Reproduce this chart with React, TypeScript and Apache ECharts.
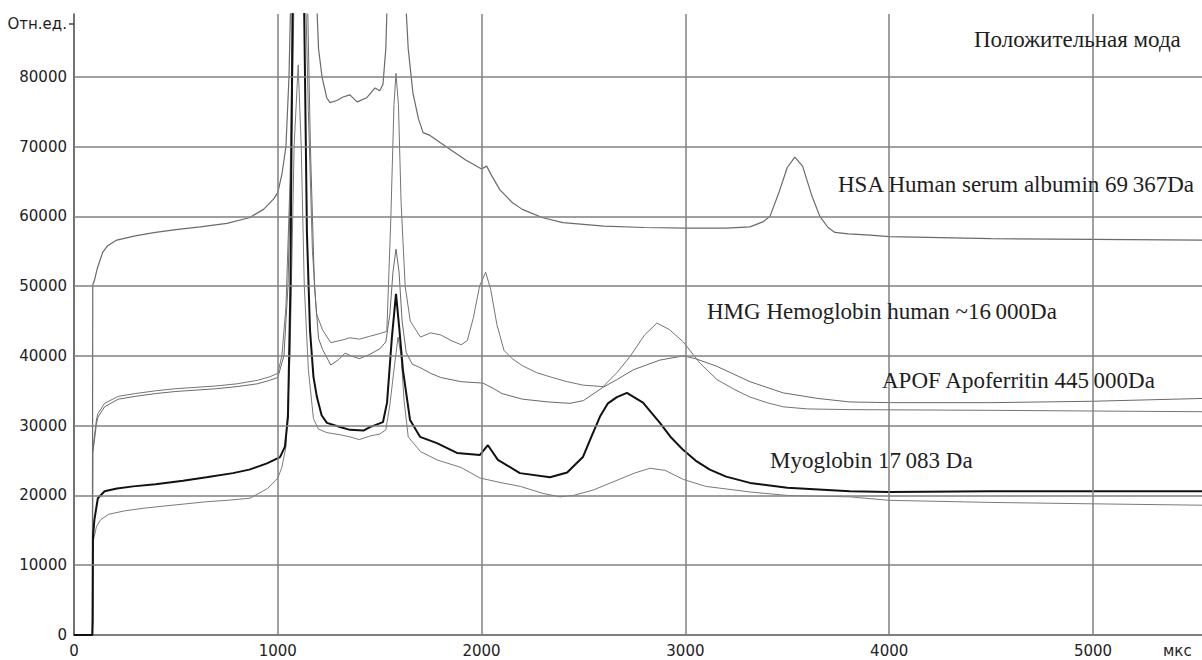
import React, { useEffect, useRef } from "react";
import * as echarts from "echarts";

// ---- axis ticks ----
const xGridValues = [1000, 2000, 3000, 4000, 5000];
const yGridValues = [10000, 20000, 30000, 40000, 50000, 60000, 70000, 80000];
const xMax = 5535;
const yMax = 89000;

// ---- series data: [time (мкс), signal (отн.ед.)] ----
const hsa: number[][] = [
  [0, 0], [90, 0], [92, 50200], [100, 50800], [115, 52600], [140, 54800], [165, 55800], [210, 56600],
  [300, 57200], [400, 57700], [500, 58100], [620, 58500], [750, 59000], [860, 59800], [930, 61000],
  [980, 62500], [1000, 63400], [1020, 66000], [1040, 70000], [1055, 80000], [1070, 100000], [1100, 130000],
  [1160, 130000], [1185, 95000], [1200, 84000], [1217, 80000], [1240, 77000], [1256, 76300], [1290, 76600],
  [1320, 77100], [1354, 77400], [1389, 76400], [1437, 77000], [1477, 78400], [1500, 78000], [1516, 78900],
  [1530, 84000], [1546, 100000], [1585, 125000], [1620, 95000], [1640, 84000], [1663, 77700], [1690, 74000],
  [1713, 72000], [1747, 71600], [1800, 70500], [1850, 69500], [1920, 68100], [2000, 66800], [2025, 67200],
  [2050, 65800], [2090, 63800], [2150, 62000], [2200, 61000], [2300, 59800], [2400, 59100], [2600, 58600],
  [2800, 58400], [3000, 58300], [3200, 58300], [3317, 58500], [3380, 59200], [3415, 60000], [3460, 63500],
  [3500, 67000], [3537, 68500], [3575, 67200], [3620, 63000], [3660, 60000], [3700, 58400], [3734, 57700],
  [3800, 57500], [3906, 57300], [4000, 57100], [4500, 56800], [5000, 56700], [5535, 56600],
];

const hmg: number[][] = [
  [0, 0], [90, 0], [92, 26600], [110, 30800], [117, 31700], [150, 33200], [217, 34200], [300, 34600],
  [400, 35000], [500, 35300], [600, 35500], [700, 35700], [800, 36000], [900, 36500], [960, 37000],
  [1000, 37500], [1020, 40000], [1040, 47000], [1060, 65000], [1080, 100000], [1130, 100000], [1150, 75000],
  [1170, 55000], [1190, 46000], [1220, 43700], [1260, 41900], [1320, 42300], [1354, 42600], [1400, 42400],
  [1450, 42800], [1500, 43200], [1535, 43500], [1555, 60000], [1570, 76000], [1580, 80500], [1592, 76000],
  [1605, 62000], [1625, 50000], [1650, 45000], [1700, 42700], [1750, 43300], [1800, 43000], [1850, 42200],
  [1900, 41600], [1930, 42200], [1960, 45500], [1990, 50000], [2020, 52000], [2045, 49500], [2075, 44500],
  [2110, 40800], [2150, 39600], [2200, 38600], [2270, 37600], [2336, 37000], [2420, 36300], [2500, 35800],
  [2596, 35600], [2664, 37600], [2728, 39900], [2800, 43000], [2860, 44700], [2920, 43800], [2990, 42000],
  [3070, 39000], [3155, 36600], [3240, 35200], [3317, 34100], [3400, 33300], [3480, 32700], [3600, 32400],
  [3807, 32300], [4500, 32200], [5000, 32100], [5535, 32000],
];

const apof: number[][] = [
  [0, 0], [90, 0], [92, 26000], [110, 30200], [117, 31200], [150, 32700], [217, 33800], [300, 34200],
  [400, 34600], [500, 34900], [600, 35100], [700, 35300], [800, 35600], [900, 36000], [960, 36500],
  [1000, 36900], [1030, 40000], [1050, 50000], [1070, 75000], [1085, 100000], [1140, 100000], [1160, 70000],
  [1180, 50000], [1200, 42500], [1220, 40900], [1260, 38700], [1300, 39500], [1330, 40400], [1360, 40000],
  [1400, 39600], [1450, 40200], [1500, 41000], [1530, 42000], [1550, 46000], [1565, 52000], [1580, 55300],
  [1595, 52000], [1610, 45000], [1630, 40500], [1660, 38800], [1700, 38300], [1750, 37500], [1800, 36900],
  [1900, 36300], [2007, 36100], [2060, 35300], [2100, 34600], [2200, 33800], [2326, 33400], [2434, 33200],
  [2500, 33600], [2596, 35500], [2664, 36600], [2744, 38000], [2875, 39400], [2990, 40000], [3050, 39600],
  [3155, 38500], [3317, 36300], [3480, 34700], [3650, 33900], [3807, 33400], [4000, 33300], [4500, 33300],
  [5000, 33500], [5535, 33900],
];

const myoglobin: number[][] = [
  [0, 0], [90, 0], [92, 2000], [93, 14000], [100, 16500], [117, 19600], [150, 20600], [211, 21000],
  [290, 21300], [400, 21600], [535, 22100], [650, 22600], [780, 23200], [860, 23700], [947, 24600],
  [1011, 25500], [1035, 27000], [1050, 31300], [1062, 50000], [1075, 100000], [1125, 100000], [1143, 57600],
  [1158, 43700], [1175, 37000], [1192, 34100], [1215, 31500], [1241, 30400], [1305, 29800], [1354, 29400],
  [1420, 29300], [1452, 29800], [1516, 30500], [1536, 33300], [1560, 42700], [1580, 48900], [1596, 44000],
  [1614, 38000], [1649, 30800], [1698, 28400], [1781, 27500], [1879, 26100], [1992, 25800], [2031, 27200],
  [2080, 25100], [2188, 23200], [2336, 22600], [2420, 23300], [2497, 25500], [2540, 28500], [2581, 31300],
  [2620, 33200], [2664, 34100], [2713, 34700], [2792, 33300], [2875, 30400], [2930, 28300], [2990, 26500],
  [3050, 25000], [3120, 23700], [3200, 22700], [3317, 21800], [3500, 21100], [3807, 20600], [4000, 20500],
  [4500, 20600], [5000, 20600], [5535, 20600],
];

const sample5: number[][] = [
  [0, 0], [90, 0], [92, 12000], [95, 13500], [110, 15500], [130, 16500], [170, 17300], [250, 17800],
  [350, 18200], [450, 18500], [550, 18800], [650, 19100], [750, 19300], [863, 19600], [950, 21000],
  [1000, 22500], [1020, 24000], [1040, 27000], [1060, 40000], [1080, 70000], [1100, 81700], [1115, 70000],
  [1130, 50000], [1150, 38000], [1175, 31000], [1200, 29500], [1241, 29000], [1305, 28700], [1354, 28400],
  [1400, 28000], [1450, 28500], [1500, 28800], [1530, 29400], [1550, 33000], [1570, 38000], [1590, 42700],
  [1605, 40000], [1620, 33500], [1640, 28400], [1700, 26300], [1781, 25100], [1900, 24000], [1992, 22500],
  [2100, 21800], [2190, 21300], [2300, 20300], [2385, 19800], [2450, 20000], [2550, 20800], [2650, 22000],
  [2750, 23200], [2826, 23900], [2900, 23600], [2990, 22300], [3100, 21300], [3317, 20500], [3500, 20000],
  [3807, 19800], [4000, 19300], [4500, 19000], [5000, 18800], [5535, 18600],
];

// ---- annotations ----
const modeTitle = "Положительная мода";
const hsaLabel = "HSA Human serum albumin 69\u2009367Da";
const hmgLabel = "HMG Hemoglobin human ~16\u2009000Da";
const apofLabel = "APOF Apoferritin 445\u2009000Da";
const myoLabel = "Myoglobin 17\u2009083 Da";
const yName = "Отн.ед.";
const xName = "мкс";

const serif = "'Liberation Serif', 'DejaVu Serif', serif";
const sans = "'DejaVu Sans', sans-serif";

export default function App() {
  const ref = useRef<HTMLDivElement>(null);

  useEffect(() => {
    if (!ref.current) return;
    const chart = echarts.init(ref.current, null, { renderer: "svg" });

    const lineSeries = (name: string, data: number[][], color: string, width: number, z: number) => ({
      name,
      type: "line",
      data,
      showSymbol: false,
      symbol: "none",
      clip: true,
      z,
      lineStyle: { color, width },
      silent: true,
    });

    const gridStyle = { color: "#808080", width: 1.5, type: "solid" };

    const textEl = (text: string, x: number, y: number, size: number, font: string, align = "left") => ({
      type: "text",
      x,
      y,
      silent: true,
      style: {
        text,
        font: `${size}px ${font}`,
        fill: "#1e1e1e",
        textAlign: align,
        textVerticalAlign: "middle",
      },
      z: 10,
    });

    chart.setOption({
      animation: false,
      backgroundColor: "#ffffff",
      grid: { left: 74, right: 0, top: 14, bottom: 25, containLabel: false },
      xAxis: {
        type: "value",
        min: 0,
        max: xMax,
        interval: 1000,
        axisLine: { show: true, lineStyle: { color: "#555", width: 1.5 } },
        axisTick: { show: false },
        splitLine: { show: false },
        axisLabel: {
          showMaxLabel: false,
          color: "#222",
          fontFamily: sans,
          fontSize: 15,
          margin: 8,
          formatter: (v: number) => String(v),
        },
      },
      yAxis: {
        type: "value",
        min: 0,
        max: yMax,
        interval: 10000,
        axisLine: { show: true, lineStyle: { color: "#444", width: 1.5 } },
        axisTick: { show: false },
        splitLine: { show: false },
        axisLabel: {
          showMaxLabel: false,
          color: "#222",
          fontFamily: sans,
          fontSize: 15,
          margin: 7,
          formatter: (v: number) => String(v),
        },
      },
      series: [
        {
          name: "grid",
          type: "line",
          data: [],
          z: 1,
          silent: true,
          markLine: {
            silent: true,
            symbol: ["none", "none"],
            label: { show: false },
            lineStyle: gridStyle,
            animation: false,
            data: [
              ...xGridValues.map((v) => ({ xAxis: v })),
              ...yGridValues.map((v) => ({ yAxis: v })),
            ],
          },
        },
        lineSeries("HSA", hsa, "#6a6a6a", 1.2, 3),
        lineSeries("HMG", hmg, "#747474", 1, 3),
        lineSeries("APOF", apof, "#6a6a6a", 1, 3),
        lineSeries("Sample", sample5, "#7a7a7a", 1, 3),
        lineSeries("Myoglobin", myoglobin, "#111111", 2, 4),
      ],
      graphic: [
        textEl(yName, 67, 24, 15, sans, "right"),
        { type: "line", silent: true, shape: { x1: 69, y1: 24, x2: 74, y2: 24 }, style: { stroke: "#444", lineWidth: 1.5 } },
        textEl(xName, 1163, 651, 15, sans),
        textEl(modeTitle, 974, 39, 23, serif),
        textEl(hsaLabel, 838, 184, 23, serif),
        textEl(hmgLabel, 707, 311, 23, serif),
        textEl(apofLabel, 882, 380, 23, serif),
        textEl(myoLabel, 770, 460, 23, serif),
      ],
    });

    return () => chart.dispose();
  }, []);

  return (
    <div
      ref={ref}
      style={{ position: "absolute", left: 0, top: 0, width: 1202, height: 660, background: "#fff" }}
    />
  );
}
